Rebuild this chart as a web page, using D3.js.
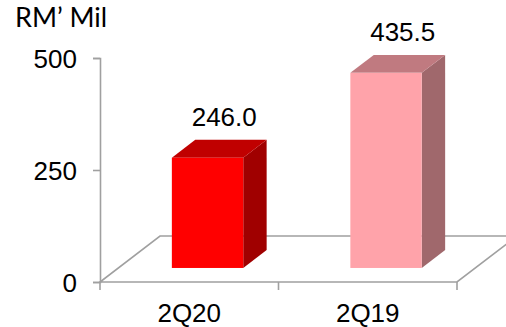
<!DOCTYPE html>
<html>
<head>
<meta charset="utf-8">
<script src="https://cdn.jsdelivr.net/npm/d3@7/dist/d3.min.js"></script>
<style>
  html, body { margin: 0; padding: 0; background: #fff; }
  svg { display: block; }
</style>
</head>
<body>
<svg id="chart" width="506" height="327"></svg>
<script>
// Revenue by quarter, RM' million
const categories = ["2Q20", "2Q19"];
const values = [246.0, 435.5];
const valueLabels = ["246.0", "435.5"];
const yTicks = [0, 250, 500];
const unitLabel = "RM\u2019 Mil";

const W = 506, H = 327;
const front = { left: 100, right: 457, bottom: 282, top: 58 };
const depth = { dx: 60, dy: -46 };     // oblique vector of full floor depth
const barDepthFrac = 0.39;             // share of the floor depth a bar takes
const barStartFrac = (1 - barDepthFrac) / 2;

const faces = [
  { front: "#ff0000", top: "#c00000", side: "#a00000" },
  { front: "#ffa3aa", top: "#c07a80", side: "#a0686c" }
];

const svg = d3.select("#chart");
svg.append("rect").attr("width", W).attr("height", H).attr("fill", "#fff");

const x = d3.scaleBand().domain(categories)
  .range([front.left, front.right]).paddingInner(0.6).paddingOuter(0.3);
const xBand = d3.scaleBand().domain(categories).range([front.left, front.right]);
const y = d3.scaleLinear().domain([0, 500]).range([front.bottom, front.top]);

const axisColor = "#a0a0a0";

// floor
const fl = [
  [front.left, front.bottom],
  [front.right, front.bottom],
  [front.right + depth.dx, front.bottom + depth.dy],
  [front.left + depth.dx, front.bottom + depth.dy]
];
svg.append("path")
  .attr("d", "M" + fl.map(p => p.join(",")).join("L") + "Z")
  .attr("fill", "#fff").attr("stroke", axisColor).attr("stroke-width", 1.6)
  .attr("stroke-linejoin", "miter");

// bars
const offX = depth.dx * barStartFrac, offY = depth.dy * barStartFrac;
const bdx = depth.dx * barDepthFrac, bdy = depth.dy * barDepthFrac;

const bars = svg.append("g").selectAll("g").data(categories).join("g");
bars.each(function (c, i) {
  const g = d3.select(this);
  const x0 = x(c) + offX, x1 = x(c) + x.bandwidth() + offX;
  const yt = y(values[i]) + offY, yb = y(0) + offY;
  const poly = pts => "M" + pts.map(p => p.join(",")).join("L") + "Z";
  g.append("path").attr("fill", faces[i].side)
    .attr("d", poly([[x1, yt], [x1 + bdx, yt + bdy], [x1 + bdx, yb + bdy], [x1, yb]]));
  g.append("path").attr("fill", faces[i].top)
    .attr("d", poly([[x0, yt], [x1, yt], [x1 + bdx, yt + bdy], [x0 + bdx, yt + bdy]]));
  g.append("rect").attr("fill", faces[i].front)
    .attr("x", x0).attr("y", yt).attr("width", x1 - x0).attr("height", yb - yt);
});

// value labels
svg.append("g").selectAll("text").data(categories).join("text")
  .attr("x", c => x(c) + x.bandwidth() / 2 + 35)
  .attr("y", (c, i) => y(values[i]) - 46)
  .attr("text-anchor", "middle")
  .attr("font-family", "'Liberation Sans', Arial, sans-serif")
  .attr("font-size", 26).attr("fill", "#000")
  .text((c, i) => valueLabels[i]);

// value axis
const yAxis = svg.append("g")
  .attr("transform", `translate(${front.left},0)`)
  .call(d3.axisLeft(y).tickValues(yTicks).tickSize(7).tickPadding(16).tickFormat(d3.format("d")));
yAxis.selectAll("path, line").attr("stroke", axisColor).attr("stroke-width", 1.6);
yAxis.selectAll("text")
  .attr("font-family", "'Liberation Sans', Arial, sans-serif")
  .attr("font-size", 26).attr("fill", "#000").attr("dy", "0.36em");

// category axis: ticks at band boundaries, labels at band centres
const bounds = [front.left, ...categories.map(c => xBand(c) + xBand.bandwidth())];
svg.append("g").selectAll("line").data(bounds).join("line")
  .attr("x1", d => d).attr("x2", d => d)
  .attr("y1", front.bottom).attr("y2", front.bottom + 8)
  .attr("stroke", axisColor).attr("stroke-width", 1.6);

svg.append("g").selectAll("text").data(categories).join("text")
  .attr("x", c => xBand(c) + xBand.bandwidth() / 2)
  .attr("y", front.bottom + 40)
  .attr("text-anchor", "middle")
  .attr("font-family", "'Liberation Sans', Arial, sans-serif")
  .attr("font-size", 26).attr("fill", "#000")
  .text(c => c);

// unit label
svg.append("text")
  .attr("x", 15).attr("y", 27)
  .attr("font-family", "Lato, 'Open Sans', sans-serif")
  .attr("font-size", 27).attr("fill", "#000")
  .text(unitLabel);
</script>
</body>
</html>
